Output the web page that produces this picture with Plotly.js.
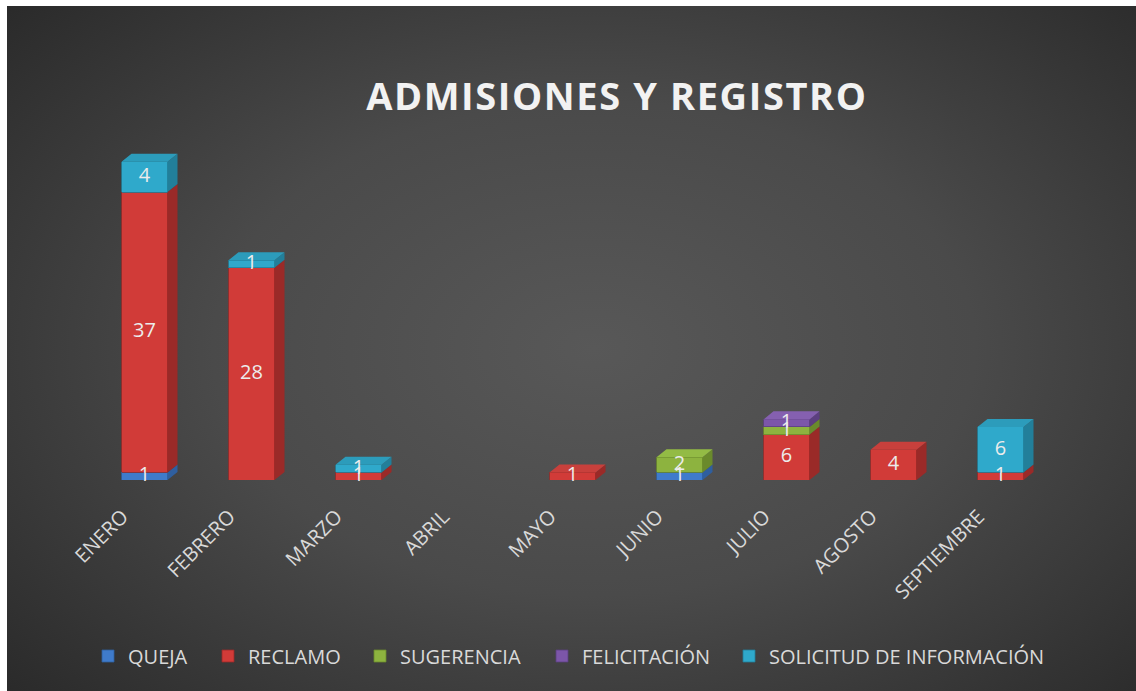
<!DOCTYPE html>
<html>
<head>
<meta charset="utf-8">
<script src="https://cdn.plot.ly/plotly-3.0.1.min.js"></script>
<style>
  html, body { margin: 0; padding: 0; background: #ffffff; width: 1136px; height: 691px; overflow: hidden; }
  #wrap { position: absolute; left: 7px; top: 6px; width: 1129px; height: 685px;
    background: radial-gradient(ellipse 75% 80% at 52% 50%, #585858 0%, #4a4a4a 45%, #333333 80%, #262626 100%); }
  #chart { position: absolute; left: -7px; top: -6px; width: 1136px; height: 691px; }
  #chart .gtitle { letter-spacing: 1.6px; }
</style>
</head>
<body>
<div id="wrap"><div id="chart"></div></div>
<script>
const months = ["ENERO", "FEBRERO", "MARZO", "ABRIL", "MAYO", "JUNIO", "JULIO", "AGOSTO", "SEPTIEMBRE"];
const queja        = [1, null, null, null, null, 1, null, null, null];
const reclamo      = [37, 28, 1, null, 1, null, 6, 4, 1];
const sugerencia   = [null, null, null, null, null, 2, 1, null, null];
const felicitacion = [null, null, null, null, null, null, 1, null, null];
const solicitud    = [4, 1, 1, null, null, null, null, null, 6];

const seriesNames = ["QUEJA", "RECLAMO", "SUGERENCIA", "FELICITACIÓN", "SOLICITUD DE INFORMACIÓN"];
const seriesData = [queja, reclamo, sugerencia, felicitacion, solicitud];
const seriesColors = ["#3f7bcb", "#d13b38", "#8db33f", "#7c56a9", "#2fa9cb"];
const sideColors   = ["#2f5f9f", "#9a2a28", "#6a8a2c", "#5c3f80", "#227f9a"];
const topColors    = ["#4a86d2", "#c8403c", "#93bb45", "#8560b0", "#2c9cbb"];
const legendIds = ["legend", "legend2", "legend3", "legend4", "legend5"];
const legendX = [88, 208, 360, 542, 729];

const xIdx = months.map((m, i) => i);
const barW = 0.43;
// depth of the 3D look (axis units: ~107 px per category, ~7.57 px per count)
const dX = 10 / 107;
const dY = 8 / 7.57;

const traces = [];
const faceTraces = [];
const cum = months.map(() => 0);
const tops = months.map(() => null);
const labelTraces = [];

seriesData.forEach((vals, i) => {
  traces.push({
    type: "bar",
    name: seriesNames[i],
    legend: legendIds[i],
    x: xIdx,
    y: vals,
    width: barW,
    marker: { color: seriesColors[i], line: { color: sideColors[i], width: 0.8 } },
    textposition: "none",
    hoverinfo: "y+name"
  });
  const sx = [], sy = [];
  const lx = [], ly = [], lt = [];
  vals.forEach((v, j) => {
    if (v !== null && v !== undefined) {
      const b = cum[j], t = cum[j] + v;
      const xr = j + barW / 2;
      sx.push(xr, xr + dX, xr + dX, xr, xr, null);
      sy.push(b, b + dY, t + dY, t, b, null);
      lx.push(j); ly.push(b + v / 2); lt.push(String(v));
      cum[j] = t;
      tops[j] = i;
    }
  });
  faceTraces.push({
    type: "scatter", mode: "lines", x: sx, y: sy, fill: "toself",
    fillcolor: sideColors[i], line: { width: 0, color: sideColors[i] },
    showlegend: false, hoverinfo: "skip", connectgaps: false
  });
  labelTraces.push({
    type: "scatter", mode: "text", x: lx, y: ly, text: lt,
    textposition: "middle center",
    textfont: { family: "Open Sans, sans-serif", size: 20, color: "#ececec" },
    showlegend: false, hoverinfo: "skip", cliponaxis: false
  });
});

// top faces for each stack
seriesData.forEach((vals, i) => {
  const tx = [], ty = [];
  months.forEach((m, j) => {
    if (tops[j] === i) {
      const xl = j - barW / 2, xr = j + barW / 2, t = cum[j];
      tx.push(xl, xl + dX, xr + dX, xr, xl, null);
      ty.push(t, t + dY, t + dY, t, t, null);
    }
  });
  if (tx.length) {
    faceTraces.push({
      type: "scatter", mode: "lines", x: tx, y: ty, fill: "toself",
      fillcolor: topColors[i], line: { width: 0, color: topColors[i] },
      showlegend: false, hoverinfo: "skip", connectgaps: false
    });
  }
});

const layout = {
  width: 1136,
  height: 691,
  paper_bgcolor: "rgba(0,0,0,0)",
  plot_bgcolor: "rgba(0,0,0,0)",
  barmode: "stack",
  margin: { l: 91, r: 82, t: 139, b: 211 },
  title: {
    text: "ADMISIONES Y REGISTRO",
    x: 0.543,
    xanchor: "center",
    y: 0.86,
    yanchor: "middle",
    yref: "container",
    font: { family: "Open Sans, sans-serif", size: 38, color: "#f2f2f2", weight: 700 }
  },
  xaxis: {
    range: [-0.5, 8.5],
    tickmode: "array",
    tickvals: xIdx,
    ticktext: months,
    tickangle: -45,
    showgrid: false,
    zeroline: false,
    showline: false,
    ticks: "",
    ticklabelshift: -22,
    ticklabelstandoff: 20,
    tickfont: { family: "Open Sans, sans-serif", size: 20, color: "#d9d9d9" },
    automargin: false,
    fixedrange: true
  },
  yaxis: {
    range: [0, 45],
    visible: false,
    showgrid: false,
    zeroline: false,
    fixedrange: true
  },
  showlegend: true
};

legendIds.forEach((id, i) => {
  layout[id] = {
    orientation: "h",
    x: legendX[i] / 1136,
    xref: "container",
    xanchor: "left",
    y: 1 - 656 / 691,
    yref: "container",
    yanchor: "middle",
    bgcolor: "rgba(0,0,0,0)",
    font: { family: "Open Sans, sans-serif", size: 20, color: "#d9d9d9" },
    itemwidth: 30
  };
});

Plotly.newPlot("chart", faceTraces.concat(traces, labelTraces), layout, { displayModeBar: false, responsive: false });
</script>
</body>
</html>
